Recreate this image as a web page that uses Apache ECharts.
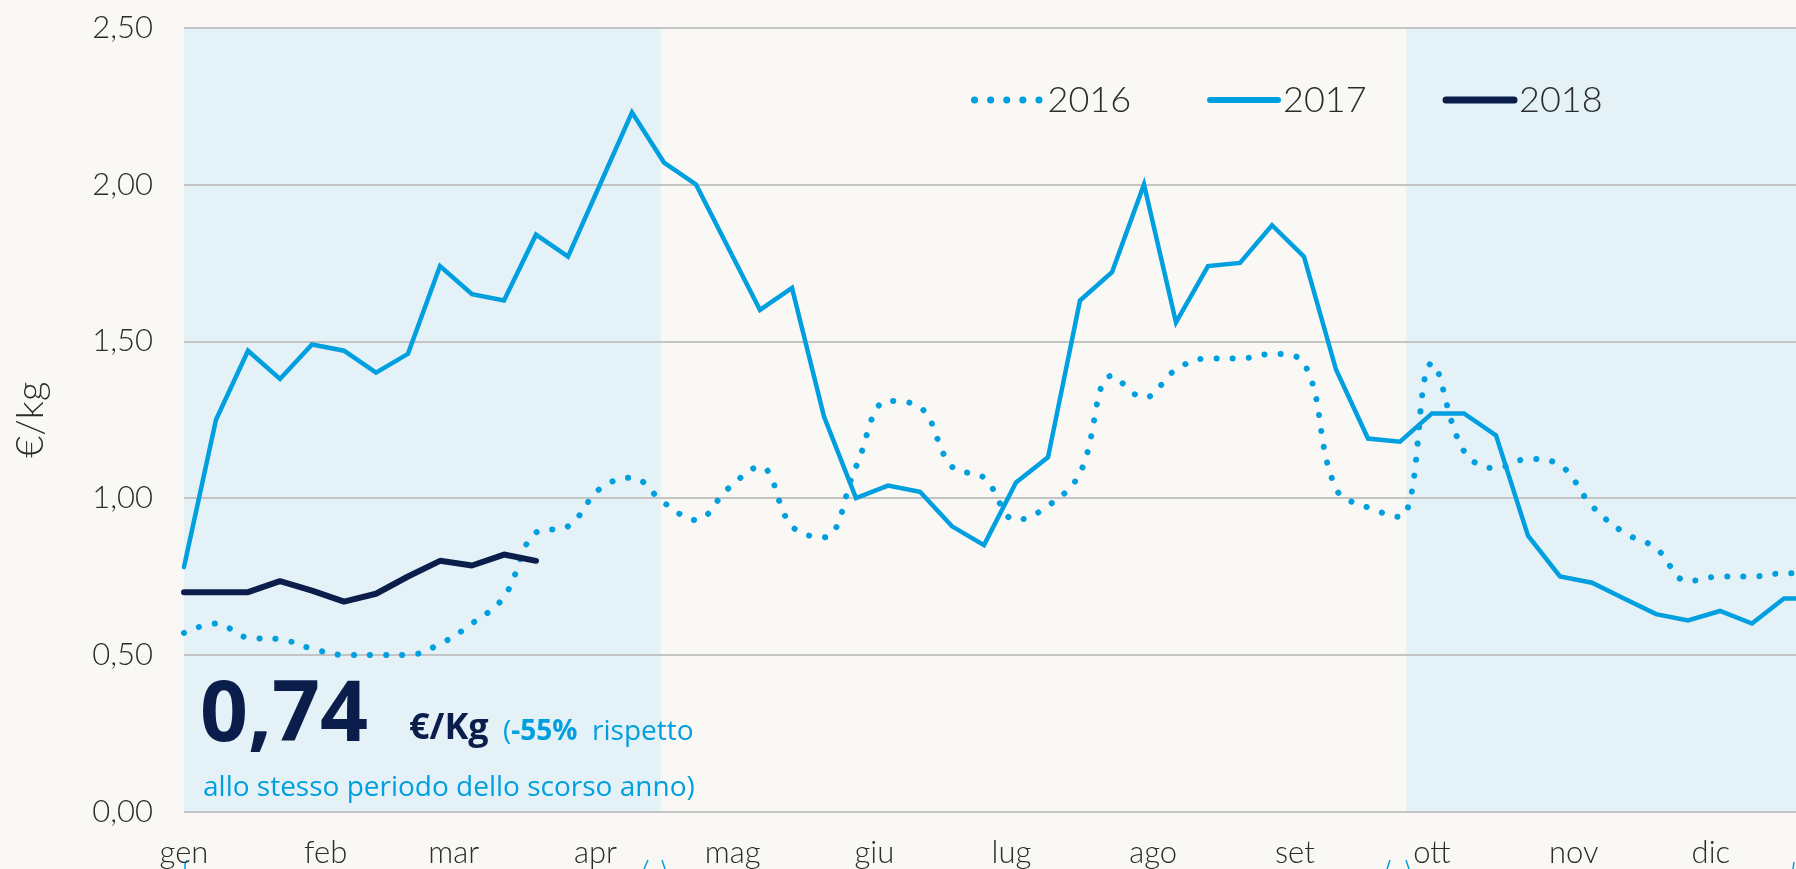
<!DOCTYPE html>
<html>
<head>
<meta charset="utf-8">
<script src="https://cdn.jsdelivr.net/npm/echarts@6/dist/echarts.min.js"></script>
<style>
  html, body { margin: 0; padding: 0; background: #F9F8F4; }
  #chart { width: 1796px; height: 869px; }
</style>
</head>
<body>
<div id="chart"></div>
<script>
  // month labels sit on the first day of each month, x axis counts weeks from 1 Jan
  const monthLabels = ['gen', 'feb', 'mar', 'apr', 'mag', 'giu', 'lug', 'ago', 'set', 'ott', 'nov', 'dic'];
  const monthStartDay = [0, 31, 59, 90, 120, 151, 181, 212, 243, 273, 304, 334];
  const yTicks = [0, 0.5, 1, 1.5, 2, 2.5];
  const seriesNames = ['2016', '2017', '2018'];

  const values2016 = [0.57, 0.60, 0.555, 0.55, 0.52, 0.50, 0.50, 0.50, 0.535, 0.60,
    0.685, 0.89, 0.91, 1.03, 1.065, 0.985, 0.93, 1.03, 1.10, 0.91,
    0.875, 1.10, 1.31, 1.29, 1.10, 1.065, 0.93, 0.975, 1.08, 1.39,
    1.32, 1.41, 1.445, 1.445, 1.46, 1.43, 1.03, 0.97, 0.94, 1.43,
    1.15, 1.095, 1.125, 1.105, 0.975, 0.89, 0.84, 0.735, 0.75, 0.75,
    0.76, 0.76];
  const values2017 = [0.78, 1.25, 1.47, 1.38, 1.49, 1.47, 1.40, 1.46, 1.74, 1.65,
    1.63, 1.84, 1.77, 2.00, 2.23, 2.07, 2.00, 1.80, 1.60, 1.67,
    1.26, 1.00, 1.04, 1.02, 0.91, 0.85, 1.05, 1.13, 1.63, 1.72,
    2.00, 1.56, 1.74, 1.75, 1.87, 1.77, 1.41, 1.19, 1.18, 1.27,
    1.27, 1.20, 0.88, 0.75, 0.73, 0.68, 0.63, 0.61, 0.64, 0.60,
    0.68, 0.68];
  const values2018 = [0.70, 0.70, 0.70, 0.735, 0.705, 0.67, 0.695, 0.75, 0.80, 0.785, 0.82, 0.80];

  // shaded periods, in weeks
  const bandWeeks = [[0, 14.9], [38.2, 51]];

  const LIGHT_BLUE = '#009FDF';
  const NAVY = '#0B1E4B';
  const AXIS_FONT = 'Lato';
  const TEXT_COLOR = '#2B2B2B';

  const monthPos = monthStartDay.map(d => d / 7);
  const toPairs = arr => arr.map((v, i) => [i, v]);
  const hiddenSymbol = { opacity: 0 };

  let myChart = echarts.init(document.getElementById('chart'));
  let option = {
    backgroundColor: '#F9F8F4',
    animation: false,
    grid: {
      left: 184,
      top: 27.7,
      width: 1632,
      height: 784,
      outerBoundsMode: 'none'
    },
    legend: {
      data: [
        { name: '2016', itemStyle: hiddenSymbol, lineStyle: { width: 7, type: [0.1, 16], cap: 'round', color: LIGHT_BLUE } },
        { name: '2017', itemStyle: hiddenSymbol, lineStyle: { width: 6, cap: 'round', color: LIGHT_BLUE } },
        { name: '2018', itemStyle: hiddenSymbol, lineStyle: { width: 7, cap: 'round', color: NAVY } }
      ],
      left: 966,
      top: 75,
      itemWidth: 68,
      itemHeight: 20,
      itemGap: 76,
      textStyle: {
        fontSize: 36,
        fontFamily: AXIS_FONT,
        fontWeight: 300,
        color: TEXT_COLOR,
        lineHeight: 40
      }
    },
    xAxis: {
      type: 'value',
      min: 0,
      max: 51,
      axisLine: { show: false },
      axisTick: { show: false },
      splitLine: { show: false },
      axisLabel: {
        customValues: monthPos,
        formatter: v => {
          let idx = monthPos.findIndex(p => Math.abs(p - v) < 1e-6);
          return idx >= 0 ? monthLabels[idx] : '';
        },
        fontSize: 31,
        fontFamily: AXIS_FONT,
        fontWeight: 300,
        color: TEXT_COLOR,
        margin: 26
      }
    },
    yAxis: {
      type: 'value',
      min: yTicks[0],
      max: yTicks[yTicks.length - 1],
      interval: 0.5,
      name: '€/kg',
      nameLocation: 'middle',
      nameRotate: 90,
      nameGap: 134,
      nameTextStyle: {
        fontSize: 38,
        fontFamily: AXIS_FONT,
        fontWeight: 300,
        color: TEXT_COLOR
      },
      axisLine: { show: false },
      axisTick: { show: false },
      splitLine: { lineStyle: { color: '#C4C4C4', width: 2 } },
      axisLabel: {
        formatter: v => v.toFixed(2).replace('.', ','),
        fontSize: 31,
        fontFamily: AXIS_FONT,
        fontWeight: 300,
        color: TEXT_COLOR,
        margin: 31
      }
    },
    series: [
      {
        name: seriesNames[0],
        type: 'line',
        data: toPairs(values2016),
        symbol: 'none',
        smooth: 0.4,
        lineStyle: { color: LIGHT_BLUE, width: 6, type: [0.1, 16], cap: 'round' },
        itemStyle: { color: LIGHT_BLUE },
        z: 2,
        markArea: {
          silent: true,
          z: -1,
          itemStyle: { color: '#E4F1F6' },
          data: bandWeeks.map(b => [{ xAxis: b[0] }, { xAxis: b[1] }])
        }
      },
      {
        name: seriesNames[1],
        type: 'line',
        data: toPairs(values2017),
        symbol: 'none',
        lineStyle: { color: LIGHT_BLUE, width: 4.5, cap: 'round', join: 'miter' },
        itemStyle: { color: LIGHT_BLUE },
        z: 3
      },
      {
        name: seriesNames[2],
        type: 'line',
        data: toPairs(values2018),
        symbol: 'none',
        lineStyle: { color: NAVY, width: 6, cap: 'round' },
        itemStyle: { color: NAVY },
        z: 4
      }
    ],
    graphic: [
      {
        type: 'text', x: 200, y: 717, z: 100,
        style: {
          text: '0,74', fill: NAVY, fontSize: 84, fontWeight: 'bold',
          fontFamily: 'Open Sans', align: 'left', verticalAlign: 'middle'
        }
      },
      {
        type: 'text', x: 409, y: 729, z: 100,
        style: {
          text: '€/Kg', fill: NAVY, fontSize: 36, fontWeight: 'bold',
          fontFamily: 'Open Sans', align: 'left', verticalAlign: 'middle'
        }
      },
      {
        type: 'text', x: 503, y: 732, z: 100,
        style: {
          text: '{n|(}{b|-55%}{n|  rispetto}',
          align: 'left', verticalAlign: 'middle',
          rich: {
            n: { fontSize: 28, fontFamily: 'Open Sans', fill: LIGHT_BLUE },
            b: { fontSize: 28, fontFamily: 'Open Sans', fontWeight: 'bold', fill: LIGHT_BLUE }
          }
        }
      },
      {
        type: 'text', x: 203, y: 788, z: 100,
        style: {
          text: 'allo stesso periodo dello scorso anno)', fill: LIGHT_BLUE, fontSize: 28,
          fontFamily: 'Open Sans', align: 'left', verticalAlign: 'middle'
        }
      },
      // tops of the period braces, cut by the bottom edge
      { type: 'polyline', shape: { points: [[187, 860], [185, 864], [185, 869]] }, style: { stroke: LIGHT_BLUE, lineWidth: 1.5, fill: null } },
      { type: 'polyline', shape: { points: [[648, 860], [644, 869]] }, style: { stroke: LIGHT_BLUE, lineWidth: 1.5, fill: null } },
      { type: 'polyline', shape: { points: [[662, 860], [665, 869]] }, style: { stroke: LIGHT_BLUE, lineWidth: 1.5, fill: null } },
      { type: 'polyline', shape: { points: [[1390, 860], [1387, 869]] }, style: { stroke: LIGHT_BLUE, lineWidth: 1.5, fill: null } },
      { type: 'polyline', shape: { points: [[1406, 860], [1409, 869]] }, style: { stroke: LIGHT_BLUE, lineWidth: 1.5, fill: null } },
      { type: 'polyline', shape: { points: [[1794, 862], [1793, 869]] }, style: { stroke: LIGHT_BLUE, lineWidth: 1.5, fill: null } }
    ]
  };
  option && myChart.setOption(option);
</script>
</body>
</html>
